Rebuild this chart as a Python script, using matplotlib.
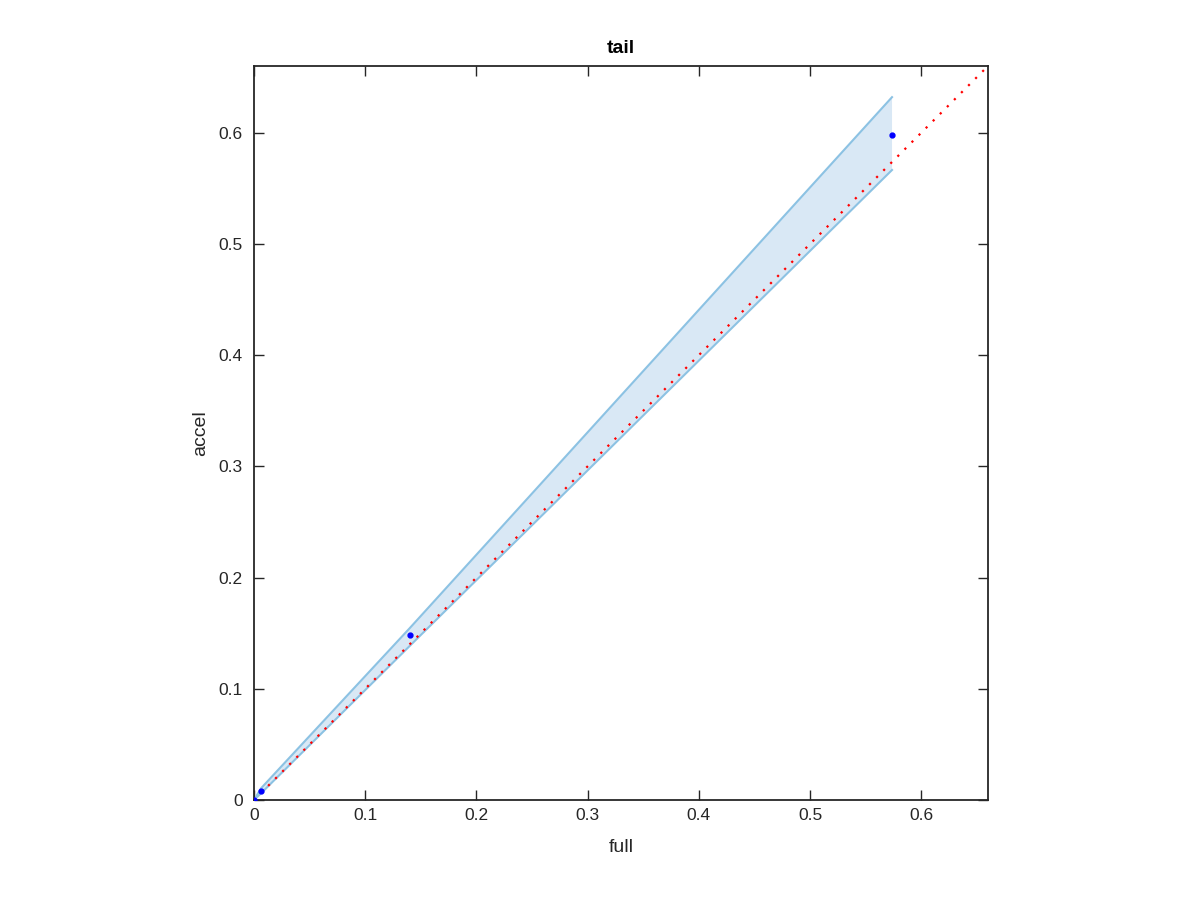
import matplotlib
matplotlib.use("Agg")
import matplotlib.pyplot as plt

plt.rcParams['font.family'] = ['Liberation Sans', 'DejaVu Sans']

full = [0.0, 0.0063, 0.140, 0.5737]
accel = [0.0, 0.0084, 0.148, 0.598]
upper = [0.0, 0.0105, 0.1545, 0.632]
lower = [0.0, 0.0060, 0.1385, 0.5665]
diag = [0.0, 0.66]
ticks = [0, 0.1, 0.2, 0.3, 0.4, 0.5, 0.6]
tick_labels = ["0", "0.1", "0.2", "0.3", "0.4", "0.5", "0.6"]

fig = plt.figure(figsize=(12, 9), dpi=100)
ax = fig.add_axes([254/1200, 1-800/900, 734/1200, 734/900])

ax.fill_between(full, lower, upper, facecolor=(0.85, 0.91, 0.96), edgecolor='none', zorder=1)
ax.plot(full, upper, color=(0.55, 0.76, 0.89), lw=1.5, zorder=2)
ax.plot(full, lower, color=(0.55, 0.76, 0.89), lw=1.5, zorder=2)
ax.plot(diag, diag, color='red', ls=(0, (1, 3.5)), lw=1.6, zorder=3)
ax.plot(full, accel, 'o', color='blue', ms=3.5, zorder=4, ls='none')

ax.set_xlim(0, 0.66)
ax.set_ylim(0, 0.66)
ax.set_xticks(ticks)
ax.set_xticklabels(tick_labels)
ax.set_yticks(ticks)
ax.set_yticklabels(tick_labels)
ax.tick_params(direction='in', length=7, width=1, top=True, right=True, labelsize=12.5, colors='#262626', pad=6)
ax.tick_params(axis='y', pad=8)
for s in ax.spines.values():
    s.set_linewidth(1.3)
    s.set_color('#262626')
ax.set_xlabel('full', fontsize=14, color='#262626', labelpad=11)
ax.set_ylabel('accel', fontsize=14, color='#262626', labelpad=7)
ax.set_title('tail', fontsize=14, fontweight='bold', pad=9)

fig.savefig('out.png', dpi=100)
